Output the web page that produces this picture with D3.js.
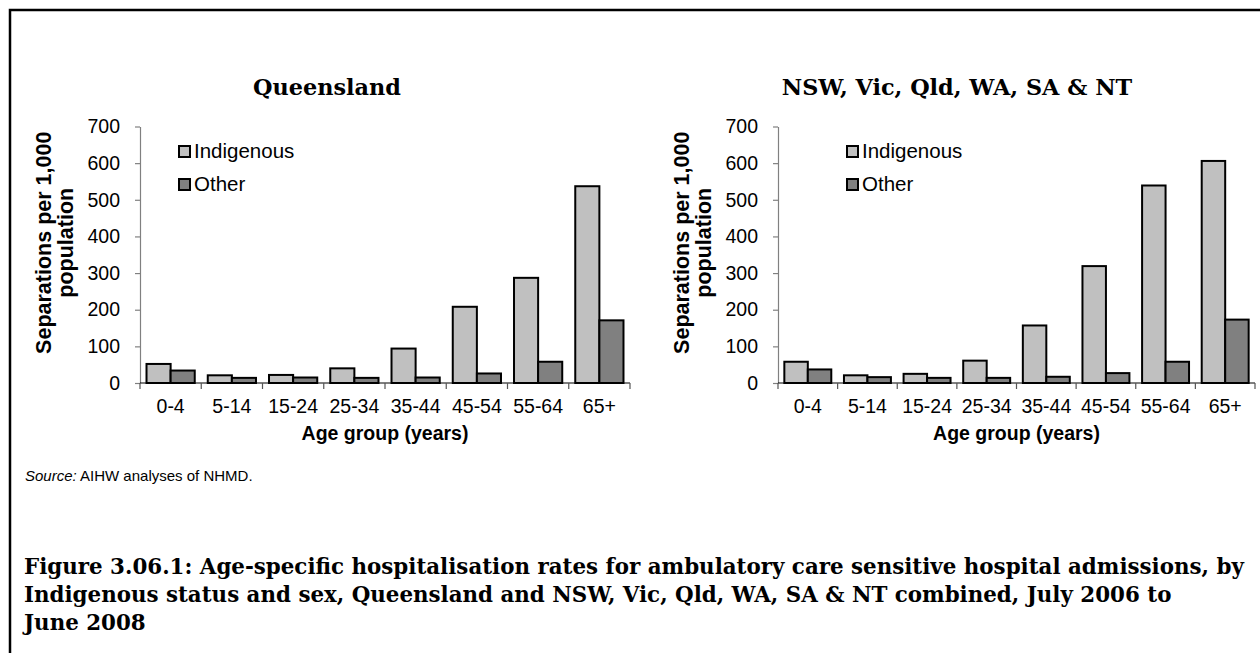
<!DOCTYPE html>
<html>
<head>
<meta charset="utf-8">
<script src="https://cdn.jsdelivr.net/npm/d3@7"></script>
<style>
  html, body { margin: 0; padding: 0; background: #fff; }
  svg { display: block; }
</style>
</head>
<body>
<svg id="chart" width="1260" height="653"></svg>
<script>
const ageGroups = ["0-4", "5-14", "15-24", "25-34", "35-44", "45-54", "55-64", "65+"];
const seriesNames = ["Indigenous", "Other"];
const qldIndigenous = [52, 21, 22, 40, 94, 208, 287, 537];
const qldOther = [34, 14, 15, 14, 15, 26, 58, 171];
const combinedIndigenous = [58, 21, 25, 61, 157, 319, 539, 606];
const combinedOther = [37, 16, 14, 14, 17, 27, 58, 173];
const yTicks = [0, 100, 200, 300, 400, 500, 600, 700];
const panelTitles = ["Queensland", "NSW, Vic, Qld, WA, SA & NT"];
const yTitleLines = ["Separations per 1,000", "population"];
const xTitle = "Age group (years)";
const sourceLabel = "Source:";
const sourceText = " AIHW analyses of NHMD.";
const captionLines = [
  "Figure 3.06.1: Age-specific hospitalisation rates for ambulatory care sensitive hospital admissions, by",
  "Indigenous status and sex, Queensland and NSW, Vic, Qld, WA, SA & NT combined, July 2006 to",
  "June 2008"
];

const colors = ["#C0C0C0", "#808080"];
const sans = "'Liberation Sans', Arial, sans-serif";
const serif = "'DejaVu Serif', 'Liberation Serif', serif";

const svg = d3.select("#chart");

// frame
svg.append("path")
  .attr("d", "M10,660 V10 H1270")
  .attr("fill", "none").attr("stroke", "#000").attr("stroke-width", 2.5);

const panels = [
  { title: panelTitles[0], titleX: 327, x0: 140, x1: 630, data: [qldIndigenous, qldOther], legendX: 179 },
  { title: panelTitles[1], titleX: 957, x0: 778, x1: 1255, data: [combinedIndigenous, combinedOther], legendX: 847 }
];

const yTop = 126.5, yBottom = 383;
const titleNodes = [];

panels.forEach(p => {
  const g = svg.append("g");
  const x = d3.scaleBand().domain(ageGroups).range([p.x0, p.x1]).paddingInner(0).paddingOuter(0);
  const xs = d3.scaleBand().domain(seriesNames).range([0, x.bandwidth()]).paddingInner(0).paddingOuter(0.27);
  const y = d3.scaleLinear().domain([0, 700]).range([yBottom, yTop]);

  // title
  titleNodes.push(g.append("text").attr("x", p.titleX).attr("y", 95)
    .attr("text-anchor", "middle")
    .attr("font-family", serif).attr("font-weight", "bold").attr("font-size", 20)
    .text(p.title));

  // y axis
  const yAxis = d3.axisLeft(y).tickValues(yTicks).tickSize(5).tickPadding(15).tickSizeOuter(0);
  const ya = g.append("g").attr("transform", `translate(${p.x0},0)`).call(yAxis);
  ya.select(".domain").attr("stroke", "#808080").attr("stroke-width", 1.2);
  ya.selectAll(".tick line").attr("stroke", "#808080").attr("stroke-width", 1.2);
  ya.selectAll(".tick text").attr("font-family", sans).attr("font-size", 19.5).attr("fill", "#000");

  // bars
  seriesNames.forEach((s, si) => {
    g.append("g").selectAll("rect")
      .data(p.data[si])
      .join("rect")
      .attr("x", (d, i) => x(ageGroups[i]) + xs(s))
      .attr("y", d => y(d))
      .attr("width", xs.bandwidth())
      .attr("height", d => y(0) - y(d))
      .attr("fill", colors[si])
      .attr("stroke", "#000").attr("stroke-width", 2);
  });

  // x axis
  const xa = g.append("g").attr("transform", `translate(0,${yBottom})`);
  xa.append("line").attr("x1", p.x0).attr("x2", p.x1).attr("y1", 0).attr("y2", 0)
    .attr("stroke", "#000").attr("stroke-width", 1.2);
  const boundaries = ageGroups.map(a => x(a)).concat([p.x1]);
  xa.selectAll("line.tk").data(boundaries).join("line").attr("class", "tk")
    .attr("x1", d => d).attr("x2", d => d).attr("y1", 0).attr("y2", 6)
    .attr("stroke", "#555").attr("stroke-width", 1.2);
  xa.selectAll("text").data(ageGroups).join("text")
    .attr("x", d => x(d) + x.bandwidth() / 2).attr("y", 30)
    .attr("text-anchor", "middle")
    .attr("font-family", sans).attr("font-size", 19.5)
    .text(d => d);

  // x title
  g.append("text").attr("x", (p.x0 + p.x1) / 2).attr("y", 440)
    .attr("text-anchor", "middle")
    .attr("font-family", sans).attr("font-weight", "bold").attr("font-size", 19.5)
    .text(xTitle);

  // y title
  const yt = g.append("text")
    .attr("transform", `translate(${p.x0 - 89},${(yTop + yBottom) / 2 - 12}) rotate(-90)`)
    .attr("text-anchor", "middle")
    .attr("font-family", sans).attr("font-weight", "bold").attr("font-size", 21.5);
  yt.append("tspan").attr("x", 0).attr("y", 0).text(yTitleLines[0]);
  yt.append("tspan").attr("x", 0).attr("y", 22).text(yTitleLines[1]);

  // legend
  const lg = g.append("g");
  seriesNames.forEach((s, si) => {
    const ly = 146 + si * 33;
    lg.append("rect").attr("x", p.legendX).attr("y", ly).attr("width", 11).attr("height", 11)
      .attr("fill", colors[si]).attr("stroke", "#000").attr("stroke-width", 2);
    lg.append("text").attr("x", p.legendX + 15).attr("y", ly + 12)
      .attr("font-family", sans).attr("font-size", 20.5).text(s);
  });
});

// fit panel titles: "Queensland" ~148px wide
{
  const w = titleNodes[0].node().getComputedTextLength();
  const fs = 20 * 148 / w;
  titleNodes.forEach(t => t.attr("font-size", fs));
}

// source
const src = svg.append("text").attr("x", 25).attr("y", 481)
  .attr("font-family", sans).attr("font-size", 15);
src.append("tspan").attr("font-style", "italic").text(sourceLabel);
src.append("tspan").text(sourceText);

// caption
const capNodes = captionLines.map((line, i) =>
  svg.append("text").attr("x", 24).attr("y", 574 + i * 28)
    .attr("font-family", serif).attr("font-weight", "bold").attr("font-size", 20)
    .text(line));
{
  const w = capNodes[0].node().getComputedTextLength();
  const fs = 20 * 1221 / w;
  capNodes.forEach(t => t.attr("font-size", fs));
}
</script>
</body>
</html>
